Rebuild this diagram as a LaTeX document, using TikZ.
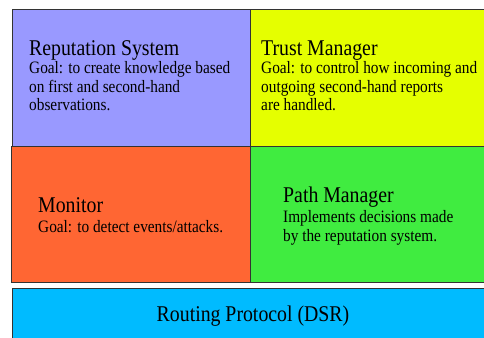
\documentclass[tikz,border=0pt]{standalone}
\usepackage{fontspec}
\setmainfont[FakeStretch=0.88]{Liberation Serif}
\definecolor{rscol}{HTML}{9999FF}
\definecolor{tmcol}{HTML}{E5FF00}
\definecolor{moncol}{HTML}{FF6633}
\definecolor{pmcol}{HTML}{40EC40}
\definecolor{rpcol}{HTML}{00BBFF}
\definecolor{edgecol}{HTML}{333333}
\tikzset{
  blk/.style={draw=edgecol, line width=1pt},
  ttl/.style={anchor=base west, inner sep=0pt, font=\fontsize{22.5}{22.5}\selectfont},
  bdy/.style={anchor=base west, inner sep=0pt, font=\fontsize{17.4}{19}\selectfont},
}
\begin{document}
\begin{tikzpicture}[x=1pt,y=1pt]
\useasboundingbox (0,0) rectangle (484,337);
\clip (0,0) rectangle (484,337);
% boxes (image y flipped: y_tikz = 337 - y_img)
\filldraw[blk, fill=rscol] (12,190) rectangle (250,327);
\filldraw[blk, fill=tmcol] (250,190) rectangle (495,327);
\filldraw[blk, fill=moncol] (11,54) rectangle (250,190);
\filldraw[blk, fill=pmcol] (250,54) rectangle (495,190);
\filldraw[blk, fill=rpcol] (12,-10) rectangle (495,48);
% texts
\node[ttl] (rst) at (29,281) {Reputation System};
\node[bdy] (rsb1) at (29,263) {Goal: to create knowledge based};
\node[bdy] (rsb2) at (29,244.5) {on first and second-hand};
\node[bdy] (rsb3) at (29,226) {observations.};
\node[ttl] (tmt) at (261,281) {Trust Manager};
\node[bdy] (tmb1) at (261,263) {Goal: to control how incoming and};
\node[bdy] (tmb2) at (261,244.5) {outgoing second-hand reports};
\node[bdy] (tmb3) at (261,226) {are handled.};
\node[ttl] (mont) at (38,124) {Monitor};
\node[bdy] (monb) at (38,104) {Goal: to detect events/attacks.};
\node[ttl] (pmt) at (283,134) {Path Manager};
\node[bdy] (pmb1) at (283,114) {Implements decisions made};
\node[bdy] (pmb2) at (283,95) {by the reputation system.};
\node[ttl, anchor=base] (rpt) at (253,16) {Routing Protocol (DSR)};
\end{tikzpicture}
\end{document}
